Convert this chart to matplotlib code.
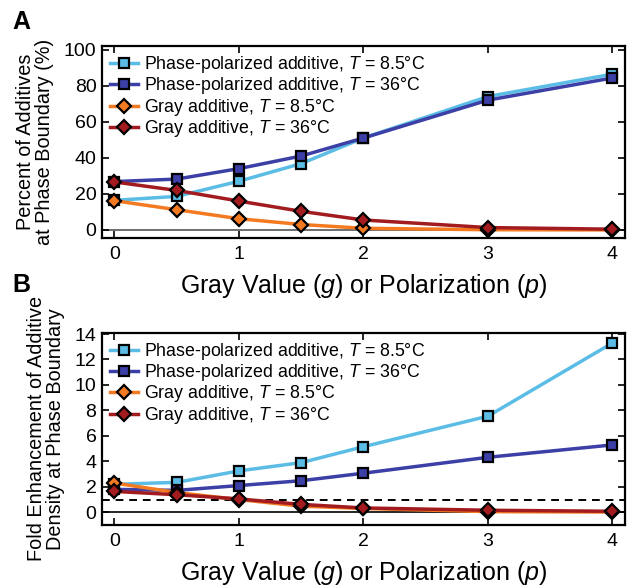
import matplotlib

matplotlib.use("Agg")

import matplotlib.pyplot as plt

plt.rcParams["font.family"] = ["Liberation Sans", "DejaVu Sans"]
plt.rcParams["mathtext.fontset"] = "custom"
plt.rcParams["mathtext.it"] = "Liberation Sans:italic"
plt.rcParams["mathtext.rm"] = "Liberation Sans"

# x positions (gray value g or polarization p)
x_values = [0, 0.5, 1, 1.5, 2, 3, 4]

# panel A: percent of additives at phase boundary (%)
pct_pp_cold = [16.4, 18.6, 27.0, 36.8, 51.0, 74.0, 86.4]
pct_pp_warm = [26.8, 28.2, 34.0, 41.0, 51.0, 72.0, 84.3]
pct_gray_cold = [16.2, 11.2, 6.2, 3.0, 0.9, 0.1, 0.0]
pct_gray_warm = [26.6, 21.9, 16.0, 10.3, 5.5, 1.3, 0.4]

# panel B: fold enhancement of additive density at phase boundary
fold_pp_cold = [2.2, 2.35, 3.25, 3.9, 5.15, 7.55, 13.3]
fold_pp_warm = [1.8, 1.72, 2.1, 2.48, 3.07, 4.32, 5.29]
fold_gray_cold = [2.3, 1.55, 1.0, 0.48, 0.3, 0.05, 0.02]
fold_gray_warm = [1.64, 1.38, 1.05, 0.62, 0.34, 0.16, 0.08]

series_labels = [
    "Phase-polarized additive, $T$ = 8.5°C",
    "Phase-polarized additive, $T$ = 36°C",
    "Gray additive, $T$ = 8.5°C",
    "Gray additive, $T$ = 36°C",
]
series_colors = ["#5bbde6", "#3b3fa6", "#f47a22", "#a11b1f"]
series_markers = ["s", "s", "D", "D"]
x_ticks = [0, 1, 2, 3, 4]

TICK_SIZE = 14
LABEL_SIZE = 14.3
XLABEL = "Gray Value ($g$) or Polarization ($p$)"


def draw_panel(ax, series, yticks, ylim, ylabel):
    for values, label, color, marker in zip(
        series, series_labels, series_colors, series_markers
    ):
        ax.plot(
            x_values,
            values,
            color=color,
            linewidth=2.5,
            marker=marker,
            markersize=6.5 if marker == "s" else 7,
            markerfacecolor=color,
            markeredgecolor="black",
            markeredgewidth=1.6,
            label=label,
            zorder=3,
        )

    ax.set_xlim(-0.1, 4.1)
    ax.set_ylim(*ylim)
    ax.set_xticks(x_ticks)
    ax.set_yticks(yticks)
    ax.tick_params(
        direction="in", top=True, right=True, length=5, width=1.2,
        labelsize=TICK_SIZE,
    )
    ax.tick_params(axis="x", pad=6)
    ax.tick_params(axis="y", pad=4)
    for spine in ax.spines.values():
        spine.set_linewidth(1.6)

    ax.set_xlabel(XLABEL, fontsize=18, labelpad=6)
    ax.set_ylabel(ylabel, fontsize=LABEL_SIZE, labelpad=7, linespacing=1.0)

    ax.legend(
        loc="upper left",
        bbox_to_anchor=(0.0, 1.0),
        frameon=False,
        fontsize=12.8,
        handlelength=1.6,
        handletextpad=0.3,
        labelspacing=0.02,
        borderpad=0.25,
        borderaxespad=0.2,
    )


fig = plt.figure(figsize=(6.27, 5.88), dpi=100)

ax_a = fig.add_axes([0.1627, 0.5952, 0.834, 0.3265])
ax_a.axhline(0, color="#555555", linewidth=1.2, zorder=1)
draw_panel(
    ax_a,
    [pct_pp_cold, pct_pp_warm, pct_gray_cold, pct_gray_warm],
    [0, 20, 40, 60, 80, 100],
    (-4.5, 102),
    "Percent of Additives\nat Phase Boundary (%)",
)

ax_b = fig.add_axes([0.1627, 0.1071, 0.834, 0.327])
ax_b.axhline(0, color="black", linewidth=1.2, zorder=1)
ax_b.axhline(1, color="black", linewidth=1.4, linestyle=(0, (4, 3)), zorder=1)
draw_panel(
    ax_b,
    [fold_pp_cold, fold_pp_warm, fold_gray_cold, fold_gray_warm],
    [0, 2, 4, 6, 8, 10, 12, 14],
    (-1, 14.1),
    "Fold Enhancement of Additive\nDensity at Phase Boundary",
)

fig.text(0.02, 0.963, "A", fontsize=18, fontweight="bold", va="center")
fig.text(0.02, 0.515, "B", fontsize=18, fontweight="bold", va="center")

fig.savefig("out.png", dpi=100)
